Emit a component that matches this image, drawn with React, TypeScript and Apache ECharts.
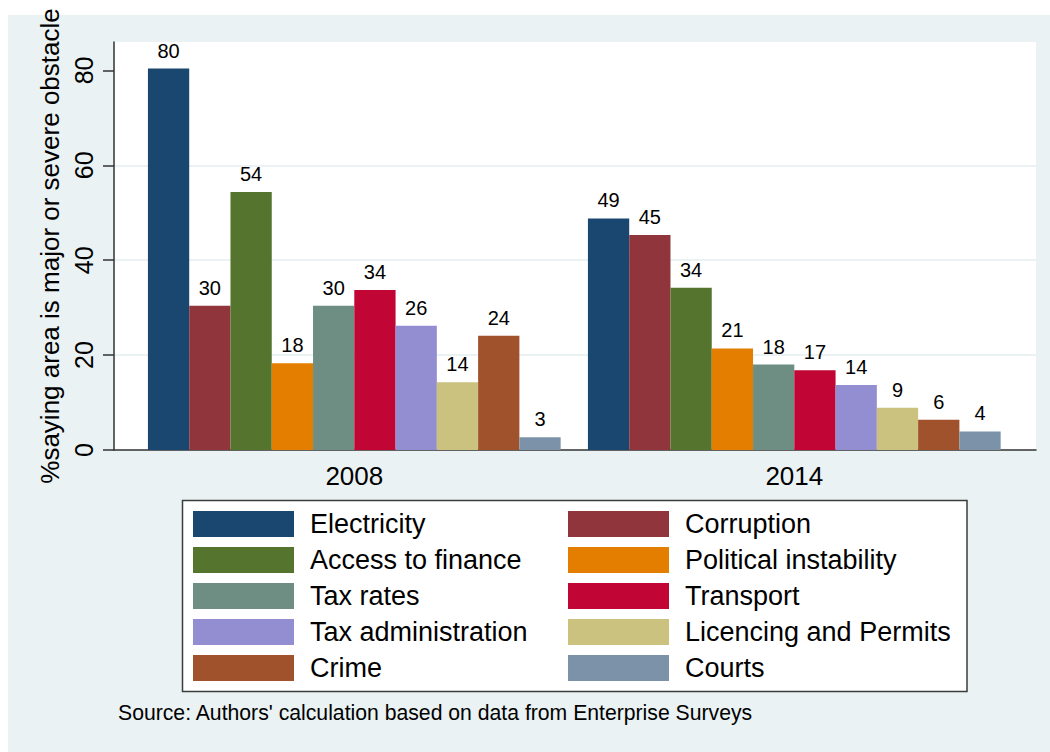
import React, { useEffect, useRef } from "react";
import * as echarts from "echarts";

const years = ["2008", "2014"];
const seriesNames = [
  "Electricity",
  "Corruption",
  "Access to finance",
  "Political instability",
  "Tax rates",
  "Transport",
  "Tax administration",
  "Licencing and Permits",
  "Crime",
  "Courts",
];
const values2008 = [80.4, 30.4, 54.4, 18.3, 30.4, 33.7, 26.2, 14.3, 24.1, 2.7];
const values2014 = [48.8, 45.3, 34.2, 21.4, 18.0, 16.8, 13.7, 8.9, 6.4, 3.9];
const colors = [
  "#1a476f",
  "#90353b",
  "#55752f",
  "#e37e00",
  "#6e8e84",
  "#c10534",
  "#938dd2",
  "#cac27e",
  "#a0522d",
  "#7b92a8",
];
const yTicks = [0, 20, 40, 60, 80];
const legendLeft = ["Electricity", "Access to finance", "Tax rates", "Tax administration", "Crime"];
const legendRight = ["Corruption", "Political instability", "Transport", "Licencing and Permits", "Courts"];
const yTitle = "%saying area is major or severe obstacle";
const sourceNote = "Source: Authors' calculation based on data from Enterprise Surveys";

const FONT = "'Liberation Sans', Arial, Helvetica, sans-serif";

export default function App() {
  const ref = useRef<HTMLDivElement>(null);

  useEffect(() => {
    document.body.style.margin = "0";
    if (!ref.current) return;
    const chart = echarts.init(ref.current, undefined, { renderer: "svg" });

    const series = seriesNames.map((name, i) => ({
      name,
      type: "bar",
      xAxisIndex: 1,
      yAxisIndex: 1,
      barGap: "0%",
      barCategoryGap: "6.2%",
      itemStyle: { color: colors[i] },
      label: {
        show: true,
        position: "top",
        distance: 8,
        fontSize: 20,
        color: "#000",
        fontFamily: FONT,
        formatter: (p: any) => String(Math.round(p.value)),
      },
      data: [values2008[i], values2014[i]],
    }));

    const legendCommon = {
      orient: "vertical",
      padding: 0,
      itemWidth: 101,
      itemHeight: 26,
      itemGap: 9,
      icon: "rect",
      selectedMode: false,
      textStyle: { fontSize: 27, color: "#000", fontFamily: FONT, padding: [0, 0, 0, 11] },
    };

    chart.setOption({
      animation: false,
      textStyle: { fontFamily: FONT },
      title: {
        text: sourceNote,
        left: 118,
        top: 702,
        padding: 0,
        textStyle: { fontSize: 21.2, fontWeight: "normal", color: "#000", fontFamily: FONT },
      },
      graphic: [
        {
          type: "rect",
          z: 0,
          shape: { x: 182.5, y: 500.5, width: 784.5, height: 191 },
          style: { fill: "#fff", stroke: "#3c3c3c", lineWidth: 1.5 },
        },
      ],
      legend: [
        { ...legendCommon, left: 193, top: 510.5, data: legendLeft },
        { ...legendCommon, left: 568, top: 510.5, data: legendRight },
      ],
      grid: [
        { left: 114, top: 42, width: 922, height: 408, show: true, backgroundColor: "#fff", borderWidth: 0 },
        { left: 134.3, top: 42, width: 880, height: 408 },
      ],
      xAxis: [
        {
          type: "value",
          gridIndex: 0,
          min: 0,
          max: 1,
          axisLine: { show: true, lineStyle: { color: "#333", width: 1.5 } },
          axisTick: { show: false },
          axisLabel: { show: false },
          splitLine: { show: false },
        },
        {
          type: "category",
          gridIndex: 1,
          data: years,
          axisLine: { show: false },
          axisTick: { show: false },
          axisLabel: { fontSize: 26, color: "#000", margin: 13, fontFamily: FONT },
          splitLine: { show: false },
        },
      ],
      yAxis: [
        {
          type: "value",
          gridIndex: 0,
          min: 0,
          max: 86,
          interval: 20,
          name: yTitle,
          nameLocation: "middle",
          nameRotate: 90,
          nameGap: 46,
          nameTextStyle: { fontSize: 26, color: "#000", fontFamily: FONT },
          axisLine: { show: true, lineStyle: { color: "#333", width: 1.5 } },
          axisTick: { show: true, length: 11, lineStyle: { color: "#333", width: 1.5 }, customValues: yTicks },
          axisLabel: { rotate: 90, margin: 18, fontSize: 25, color: "#000", fontFamily: FONT, customValues: yTicks },
          splitLine: {
            show: true,
            showMinLine: false,
            showMaxLine: false,
            lineStyle: { color: "#eaf2f3", width: 2 },
          },
        },
        {
          type: "value",
          gridIndex: 1,
          min: 0,
          max: 86,
          show: false,
          splitLine: { show: false },
        },
      ],
      series,
    });

    return () => chart.dispose();
  }, []);

  return (
    <div style={{ position: "relative", width: 1050, height: 752, background: "#fff" }}>
      <div
        style={{ position: "absolute", left: 8, top: 15, width: 1042, height: 737, background: "#eaf2f3" }}
      />
      <div ref={ref} style={{ position: "absolute", left: 0, top: 0, width: 1050, height: 752 }} />
    </div>
  );
}
